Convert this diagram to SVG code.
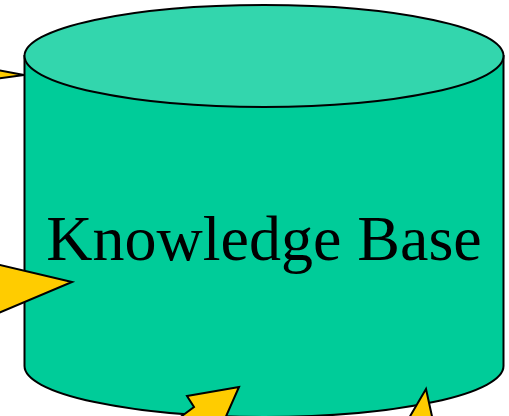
<svg xmlns="http://www.w3.org/2000/svg" width="509" height="416" viewBox="0 0 509 416">
<style>
.body{fill:#00CC99;stroke:#000;stroke-width:2}
.top{fill:#33D6AD;stroke:#000;stroke-width:2}
.label{font-family:"Liberation Serif","Times New Roman",serif;font-size:64px;fill:#000}
.arrow{fill:#FFCC00;stroke:#000;stroke-width:2;stroke-linejoin:miter}
</style>
<rect width="509" height="416" fill="#fff"/>
<g id="knowledge-base">
<path class="body" d="M24.5,56 L24.5,366 A239.5,51 0 0 0 503.5,366 L503.5,56 Z"/>
<ellipse class="top" cx="264" cy="56" rx="239.5" ry="51"/>
<text class="label" x="264" y="260" text-anchor="middle">Knowledge Base</text>
</g>
<g id="connectors">
<polygon class="arrow" points="24,75 -10,68.5 -10,79.5"/>
<polygon class="arrow" points="72,282 -10,262.6 -10,316.6"/>
<polygon class="arrow" points="239,387 187,396 194,407 163,430 220,430"/>
<polygon class="arrow" points="426,389 402,430 435,430"/>
</g>
</svg>
